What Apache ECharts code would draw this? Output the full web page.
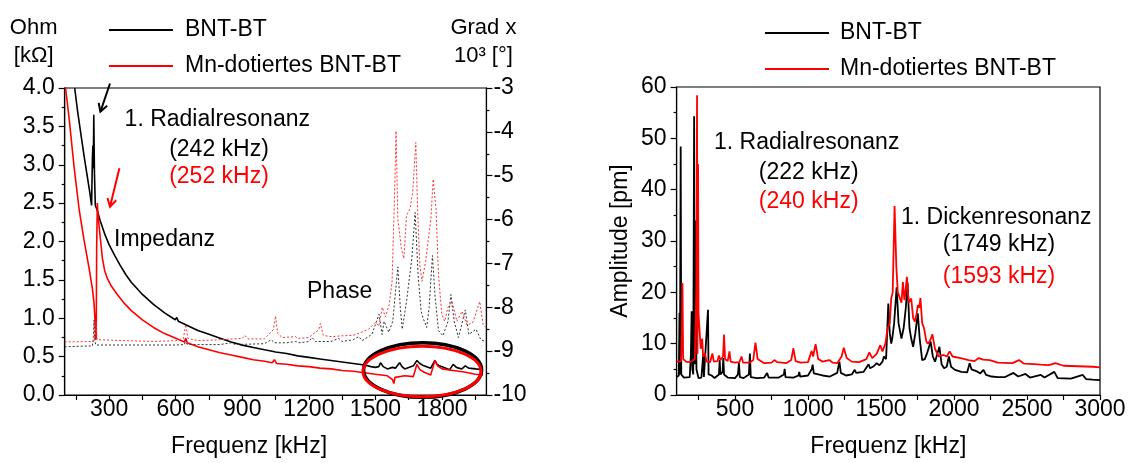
<!DOCTYPE html>
<html>
<head>
<meta charset="utf-8">
<script src="https://cdn.jsdelivr.net/npm/echarts@6.0.0/dist/echarts.min.js"></script>
<style>
html,body{margin:0;padding:0;background:#fff;}
#chart{width:1137px;height:463px;}
</style>
</head>
<body>
<div id="chart"></div>
<script>
// ---------- DATA ----------
const seriesNames = ['BNT-BT', 'Mn-dotiertes BNT-BT'];

// Left chart: impedance [kHz, kOhm]
const impBNT = [[145,4.0],[158,3.7],[172,3.42],[187,3.12],[200,2.88],[212,2.66],[221,2.47],[225,3.1],[227,3.25],[229,2.95],[231,3.65],[234,2.9],[238,2.47],[245,2.42],[260,2.27],[280,2.1],[300,1.96],[325,1.82],[350,1.69],[375,1.57],[400,1.47],[450,1.31],[500,1.18],[550,1.07],[598,0.98],[605,1.01],[612,0.96],[650,0.91],[700,0.84],[750,0.79],[800,0.74],[850,0.69],[900,0.65],[950,0.62],[1000,0.59],[1035,0.57],[1042,0.59],[1050,0.56],[1100,0.54],[1150,0.51],[1200,0.49],[1250,0.47],[1300,0.45],[1350,0.43],[1400,0.41],[1450,0.39],[1480,0.37],[1499,0.36],[1515,0.37],[1523,0.42],[1535,0.37],[1554,0.34],[1577,0.36],[1590,0.35],[1609,0.42],[1620,0.37],[1632,0.34],[1671,0.38],[1687,0.45],[1700,0.41],[1718,0.38],[1749,0.35],[1768,0.45],[1778,0.40],[1788,0.38],[1835,0.33],[1850,0.40],[1865,0.36],[1889,0.34],[1905,0.38],[1920,0.35],[1952,0.34],[1985,0.33]];
const impMn = [[100,4.1],[110,3.85],[120,3.6],[142,2.98],[165,2.42],[187,2.02],[210,1.65],[225,1.38],[232,1.2],[237,0.95],[240,0.72],[242,0.75],[244,1.9],[247,2.5],[250,2.35],[255,2.2],[262,2.0],[270,1.78],[280,1.62],[292,1.52],[310,1.42],[337,1.31],[370,1.19],[400,1.1],[450,0.98],[500,0.88],[550,0.8],[600,0.74],[640,0.69],[645,0.74],[652,0.68],[700,0.63],[750,0.59],[800,0.55],[850,0.52],[900,0.49],[950,0.46],[1000,0.44],[1035,0.42],[1045,0.46],[1055,0.41],[1100,0.40],[1150,0.38],[1200,0.37],[1250,0.35],[1300,0.34],[1350,0.32],[1400,0.31],[1450,0.29],[1499,0.27],[1554,0.25],[1577,0.2],[1583,0.15],[1588,0.23],[1632,0.25],[1671,0.24],[1687,0.40],[1700,0.33],[1718,0.30],[1749,0.26],[1768,0.45],[1780,0.38],[1800,0.34],[1850,0.32],[1900,0.30],[1950,0.27],[1985,0.26]];

// Left chart: phase [kHz, degree x 10^3]
const phaseBNT = [[100,-8.90],[225,-8.88],[229,-8.69],[232,-8.29],[235,-8.74],[240,-8.86],[400,-8.86],[600,-8.86],[640,-8.85],[645,-8.74],[652,-8.85],[800,-8.85],[850,-8.81],[870,-8.85],[1000,-8.83],[1030,-8.74],[1045,-8.81],[1100,-8.81],[1140,-8.78],[1160,-8.81],[1200,-8.78],[1215,-8.69],[1230,-8.78],[1300,-8.78],[1335,-8.71],[1350,-8.78],[1400,-8.74],[1425,-8.67],[1440,-8.76],[1484,-8.62],[1516,-8.16],[1530,-8.62],[1539,-8.32],[1560,-8.57],[1578,-8.32],[1601,-7.08],[1612,-8.00],[1621,-8.50],[1640,-7.87],[1664,-6.89],[1679,-5.84],[1692,-7.25],[1706,-8.09],[1715,-8.25],[1731,-8.46],[1742,-8.00],[1757,-6.82],[1768,-7.71],[1784,-8.53],[1804,-8.65],[1827,-8.32],[1840,-7.71],[1855,-8.32],[1874,-8.69],[1905,-8.06],[1921,-8.62],[1953,-8.50],[1975,-8.74],[1995,-8.78]];
const phaseMn = [[100,-8.79],[230,-8.78],[238,-8.60],[242,-8.34],[246,-8.74],[250,-8.78],[500,-8.78],[600,-8.76],[635,-8.71],[645,-8.39],[655,-8.71],[700,-8.76],[800,-8.74],[900,-8.71],[912,-8.64],[925,-8.72],[1000,-8.72],[1040,-8.51],[1050,-8.20],[1060,-8.60],[1080,-8.69],[1140,-8.67],[1150,-8.71],[1200,-8.69],[1245,-8.51],[1252,-8.37],[1265,-8.64],[1300,-8.67],[1350,-8.65],[1400,-8.64],[1437,-8.57],[1470,-8.50],[1500,-8.34],[1515,-8.43],[1531,-8.00],[1545,-8.22],[1562,-7.94],[1575,-7.41],[1586,-5.45],[1593,-3.98],[1601,-5.98],[1617,-6.66],[1628,-6.89],[1640,-5.91],[1656,-5.75],[1668,-5.38],[1682,-4.24],[1690,-5.75],[1700,-7.04],[1710,-7.41],[1726,-6.96],[1750,-5.98],[1760,-5.08],[1773,-5.75],[1784,-7.25],[1799,-8.16],[1812,-8.32],[1827,-8.00],[1846,-7.87],[1867,-8.32],[1890,-8.09],[1913,-8.41],[1940,-8.34],[1970,-7.87],[1985,-8.39],[1998,-8.46]];

// Right chart: amplitude [kHz, pm]
const ampBNT = [[100,3.5],[115,3.8],[120,16.0],[123,4.0],[128,48.4],[132,4.0],[150,3.4],[190,3.5],[198,8],[203,16.3],[208,5],[214,4],[220,54.3],[223,6],[228,34],[232,34],[236,5],[250,3.3],[270,3.4],[283,8.1],[287,3.5],[300,3.4],[315,16.6],[319,4],[340,3.8],[360,3.3],[390,4],[395,6.8],[400,4],[415,4.5],[420,7.2],[425,4],[450,3.4],[500,3.3],[520,4],[527,6.2],[533,3.5],[560,3.3],[595,4],[602,8.1],[608,3.5],[650,3.3],[700,3.4],[720,4.3],[730,3.4],[800,3.4],[835,4],[840,5.1],[846,3.5],[900,3.4],[935,3.8],[940,4.5],[946,3.6],[1000,3.8],[1025,5],[1032,5.9],[1040,4.2],[1100,3.8],[1150,3.6],[1200,4.3],[1215,6.5],[1225,4.3],[1260,3.8],[1300,4],[1320,4.9],[1330,4.3],[1380,4.5],[1415,6.0],[1425,5.2],[1450,5.6],[1470,6.2],[1490,5.8],[1510,6.5],[1520,7.5],[1535,7],[1550,17.8],[1560,12],[1570,10],[1577,11],[1590,14],[1607,21],[1620,14],[1640,11],[1655,13],[1670,17],[1682,21.9],[1695,13],[1707,11],[1720,9.4],[1735,12],[1752,15.9],[1765,11],[1782,6.8],[1800,7],[1815,8.1],[1840,10.4],[1855,7.5],[1870,6.5],[1900,9.4],[1915,6],[1932,5.2],[1950,5.5],[1965,7.5],[1980,5.5],[2007,4.9],[2050,4.5],[2090,4.4],[2107,6.2],[2120,5],[2157,4.6],[2180,4.2],[2202,4.9],[2220,3.9],[2257,3.6],[2300,3.5],[2350,3.5],[2407,4.3],[2440,3.6],[2490,4.1],[2520,3.4],[2595,3.9],[2620,3.4],[2687,4.5],[2710,3.3],[2800,3.2],[2882,3.9],[2905,3.1],[2950,3.0],[3000,2.9]];
const ampMn = [[100,6.5],[130,6.6],[136,12],[140,21.8],[145,7],[170,6.4],[200,6.5],[225,7],[235,20],[240,58.4],[243,8],[247,45],[250,16],[257,15.9],[265,9],[275,11],[282,7.5],[295,8.1],[305,6.5],[330,6.4],[345,8.1],[355,6.5],[380,6.6],[390,7.7],[400,6.8],[418,7.5],[425,11.8],[432,7],[450,6.6],[462,8.5],[470,6.5],[500,6.3],[530,6.4],[545,7.5],[555,6.3],[600,6.3],[625,6.8],[640,10.2],[655,7],[700,6.2],[750,6.3],[770,6.8],[790,6.4],[850,6.2],[885,6.8],[900,9.1],[915,6.6],[950,6.3],[1000,6.4],[1025,8.6],[1035,7.5],[1052,9.9],[1070,7],[1100,6.5],[1145,6.8],[1170,6.3],[1200,6.2],[1230,7.5],[1245,9.2],[1265,7.2],[1300,6.5],[1350,6.4],[1400,7],[1420,8.3],[1440,7.2],[1470,8],[1495,9.7],[1510,8.5],[1530,10],[1545,13],[1560,14],[1570,18.8],[1580,20],[1593,36.8],[1605,25],[1615,20],[1625,19.7],[1640,18],[1650,22],[1660,18.5],[1665,19.4],[1677,23],[1690,18],[1707,18.8],[1720,15],[1732,14.3],[1745,16],[1752,17.5],[1762,17],[1770,18.9],[1782,14],[1795,13],[1810,10.5],[1820,10],[1835,10.5],[1852,11.8],[1870,9],[1895,7.5],[1930,7.8],[1950,7.5],[1970,8.5],[1990,7.5],[2045,7.2],[2100,6.8],[2140,6.6],[2170,7.2],[2200,6.9],[2245,6.8],[2300,6.3],[2400,6.2],[2445,6.8],[2480,6.1],[2550,6.0],[2595,5.9],[2650,5.8],[2695,6.2],[2750,5.7],[2850,5.6],[2950,5.5],[3000,5.4]];

// Axis tick / label values
const leftFreqLabels = [300, 600, 900, 1200, 1500, 1800];
const leftFreqTicks = [150, 300, 450, 600, 750, 900, 1050, 1200, 1350, 1500, 1650, 1800, 1950];
const rightFreqLabels = [500, 1000, 1500, 2000, 2500, 3000];
const rightFreqTicks = [250, 500, 750, 1000, 1250, 1500, 1750, 2000, 2250, 2500, 2750, 3000];

// Texts
const xTitle = 'Frequenz [kHz]';
const leftYTitle = 'Ohm\n[kΩ]';
const rightYTitle = 'Grad x\n10³ [°]';
const ampTitle = 'Amplitude [pm]';
const annLeft = ['1. Radialresonanz', '(242 kHz)', '(252 kHz)', 'Impedanz', 'Phase'];
const annRight = ['1. Radialresonanz', '(222 kHz)', '(240 kHz)', '1. Dickenresonanz', '(1749 kHz)', '(1593 kHz)'];

// ---------- CHART ----------
const FONT = "'Liberation Sans', Arial, sans-serif";
const FS = 23;
const BLACK = '#000000';
const RED = '#ff0000';
const chart = echarts.init(document.getElementById('chart'), null, {renderer: 'canvas'});

function lineSeries(name, data, xi, yi, color, width, dash) {
  return {
    name: name, type: 'line', data: data, xAxisIndex: xi, yAxisIndex: yi,
    showSymbol: false, symbol: 'none', smooth: false, clip: true,
    itemStyle: {color: color},
    lineStyle: {color: color, width: width, type: dash || 'solid'},
    emphasis: {disabled: true}, silent: true, animation: false
  };
}
function txt(text, x, y, color, align) {
  return {type: 'text', x: x, y: y, silent: true, z: 100,
    style: {text: text, fill: color, font: FS + 'px ' + FONT, align: align || 'left', verticalAlign: 'middle'}};
}
function arrow(x1, y1, x2, y2, color) {
  const dx = x2 - x1, dy = y2 - y1, L = Math.hypot(dx, dy);
  const ux = dx / L, uy = dy / L, h = 9, c = Math.cos(Math.PI / 6), s = Math.sin(Math.PI / 6);
  const a = [x2 - h * (c * ux - s * uy), y2 - h * (s * ux + c * uy)];
  const b = [x2 - h * (c * ux + s * uy), y2 - h * (-s * ux + c * uy)];
  return [
    {type: 'line', silent: true, z: 100, shape: {x1: x1, y1: y1, x2: x2, y2: y2}, style: {stroke: color, lineWidth: 2}},
    {type: 'polyline', silent: true, z: 100, shape: {points: [a, [x2, y2], b]}, style: {stroke: color, lineWidth: 2, fill: null}}
  ];
}
const plain = function (v) { return String(v); };

const axisLineStyle = {color: BLACK, width: 1.2};
const labelStyle = {color: BLACK, fontSize: FS, fontFamily: FONT};
const nameStyle = {color: BLACK, fontSize: FS, fontFamily: FONT};

const option = {
  animation: false,
  textStyle: {fontFamily: FONT},
  grid: [
    {left: 64.7, top: 88, width: 421.7, height: 310, show: true, borderColor: BLACK, borderWidth: 1.2, backgroundColor: 'transparent'},
    {left: 676.6, top: 87, width: 423.4, height: 310, show: true, borderColor: BLACK, borderWidth: 1.2, backgroundColor: 'transparent'}
  ],
  legend: [
    {data: seriesNames, left: 109, top: 17, orient: 'vertical', itemWidth: 64, itemHeight: 2, itemGap: 10,
     icon: 'rect', selectedMode: false, padding: 0,
     textStyle: {color: BLACK, fontSize: FS, fontFamily: FONT, lineHeight: 26, padding: [0, 0, 0, 7]}},
    {data: seriesNames, left: 765, top: 20, orient: 'vertical', itemWidth: 64, itemHeight: 2, itemGap: 10,
     icon: 'rect', selectedMode: false, padding: 0,
     textStyle: {color: BLACK, fontSize: FS, fontFamily: FONT, lineHeight: 26, padding: [0, 0, 0, 6]}}
  ],
  xAxis: [
    {type: 'value', gridIndex: 0, min: 100, max: 2000, position: 'bottom',
     name: xTitle, nameLocation: 'middle', nameGap: 40, nameTextStyle: Object.assign({padding: [0, 53, 0, 0]}, nameStyle),
     axisLine: {show: true, onZero: false, lineStyle: axisLineStyle},
     axisTick: {show: true, inside: false, length: 5, lineStyle: axisLineStyle, customValues: leftFreqTicks},
     axisLabel: Object.assign({margin: 3, formatter: plain, customValues: leftFreqLabels}, labelStyle),
     splitLine: {show: false}},
    {type: 'value', gridIndex: 1, min: 100, max: 3000, position: 'bottom',
     name: xTitle, nameLocation: 'middle', nameGap: 40, nameTextStyle: nameStyle,
     axisLine: {show: true, onZero: false, lineStyle: axisLineStyle},
     axisTick: {show: true, inside: false, length: 5, lineStyle: axisLineStyle, customValues: rightFreqTicks},
     axisLabel: Object.assign({margin: 3, formatter: plain, customValues: rightFreqLabels}, labelStyle),
     splitLine: {show: false}}
  ],
  yAxis: [
    {type: 'value', gridIndex: 0, min: 0, max: 4, interval: 0.5, position: 'left',
     name: leftYTitle, nameLocation: 'end', nameGap: 18,
     nameTextStyle: Object.assign({align: 'center', lineHeight: 28, padding: [0, 62, 0, 0]}, nameStyle, {fontSize: 22}),
     axisLine: {show: true, onZero: false, lineStyle: axisLineStyle},
     axisTick: {show: true, inside: false, length: 6, lineStyle: axisLineStyle},
     minorTick: {show: true, splitNumber: 2, length: 3, lineStyle: axisLineStyle},
     axisLabel: Object.assign({margin: 10, formatter: function (v) { return v.toFixed(1); }}, labelStyle),
     splitLine: {show: false}, minorSplitLine: {show: false}},
    {type: 'value', gridIndex: 0, min: -10, max: -3, interval: 1, position: 'right',
     name: rightYTitle, nameLocation: 'end', nameGap: 18,
     nameTextStyle: Object.assign({align: 'center', lineHeight: 28, padding: [0, 6, 0, 0]}, nameStyle, {fontSize: 22}),
     axisLine: {show: true, onZero: false, lineStyle: axisLineStyle},
     axisTick: {show: true, inside: false, length: 6, lineStyle: axisLineStyle},
     minorTick: {show: true, splitNumber: 2, length: 3, lineStyle: axisLineStyle},
     axisLabel: Object.assign({margin: 7, formatter: plain}, labelStyle),
     splitLine: {show: false}, minorSplitLine: {show: false}},
    {type: 'value', gridIndex: 1, min: 0, max: 60, interval: 10, position: 'left',
     name: ampTitle, nameLocation: 'middle', nameGap: 44, nameTextStyle: nameStyle,
     axisLine: {show: true, onZero: false, lineStyle: axisLineStyle},
     axisTick: {show: true, inside: false, length: 6, lineStyle: axisLineStyle},
     minorTick: {show: true, splitNumber: 2, length: 3, lineStyle: axisLineStyle},
     axisLabel: Object.assign({margin: 10, formatter: plain}, labelStyle),
     splitLine: {show: false}, minorSplitLine: {show: false}}
  ],
  series: [
    lineSeries(seriesNames[0], impBNT, 0, 0, BLACK, 1.6),
    lineSeries(seriesNames[1], impMn, 0, 0, RED, 1.6),
    lineSeries(seriesNames[0], phaseBNT, 0, 1, '#333333', 1, [2, 2]),
    lineSeries(seriesNames[1], phaseMn, 0, 1, '#ff3030', 1, [2, 2]),
    lineSeries(seriesNames[0], ampBNT, 1, 2, BLACK, 1.8),
    lineSeries(seriesNames[1], ampMn, 1, 2, RED, 1.8)
  ],
  graphic: [].concat(
    [
      txt(annLeft[0], 124.6, 119.5, BLACK),
      txt(annLeft[1], 219, 150, BLACK, 'center'),
      txt(annLeft[2], 219, 177, RED, 'center'),
      txt(annLeft[3], 114, 240, BLACK),
      txt(annLeft[4], 307, 292, BLACK),
      txt(annRight[0], 714, 143, BLACK),
      txt(annRight[1], 808.7, 173, BLACK, 'center'),
      txt(annRight[2], 808.7, 202, RED, 'center'),
      txt(annRight[3], 901, 218, BLACK),
      txt(annRight[4], 999, 245, BLACK, 'center'),
      txt(annRight[5], 999, 277, RED, 'center'),
      {type: 'ellipse', silent: true, z: 90, shape: {cx: 422.6, cy: 370, rx: 59, ry: 27.3}, style: {stroke: BLACK, lineWidth: 3.5, fill: null}},
      {type: 'ellipse', silent: true, z: 91, shape: {cx: 422, cy: 371.5, rx: 59, ry: 25.3}, style: {stroke: RED, lineWidth: 3, fill: null}}
    ],
    arrow(110, 83.5, 100.4, 111.7, BLACK),
    arrow(119.4, 168.3, 110, 206.7, RED)
  )
};
chart.setOption(option);
</script>
</body>
</html>
